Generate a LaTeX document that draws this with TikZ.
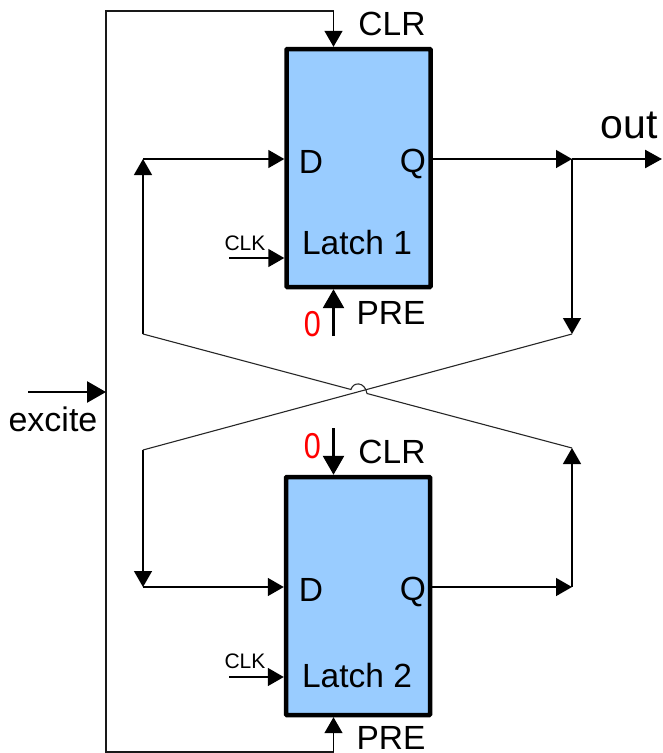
\documentclass[tikz,border=0pt]{standalone}
\usepackage{fontspec}
\setmainfont{Liberation Sans}
\usetikzlibrary{arrows.meta}
\definecolor{latchfill}{HTML}{99CCFF}
\tikzset{
  x=1pt,y=-1pt,
  latch/.style={draw=black,fill=latchfill,line width=4.5pt,minimum width=144pt,minimum height=238pt,inner sep=0pt,outer sep=2.2pt,rounded corners=0.8pt},
  wire/.style={line width=1.4pt,black!90},
  pin/.style={line width=1.4pt,black,-{Triangle[length=16pt,width=18pt]}},
  boldpin/.style={line width=2.6pt,black,-{Triangle[length=19pt,width=21pt]}},
  lab/.style={font=\fontsize{33.5}{34}\selectfont,inner sep=0pt,text=black},
  small/.style={font=\fontsize{21}{21}\selectfont,inner sep=0pt,text=black},
  zero/.style={font=\fontsize{36}{36}\selectfont,inner sep=0pt,text=red},
}
\begin{document}
\begin{tikzpicture}
\useasboundingbox (0,0) rectangle (662,753);
\node[latch] (L1) at (358.5,168) {};
\node[latch] (L2) at (358,596) {};
% labels
\node[lab] (clr1) at (392,24) {CLR};
\node[lab] (pre1) at (391,313) {PRE};
\node[lab] (clr2) at (392,452) {CLR};
\node[lab] (pre2) at (391,738) {PRE};
\node[lab] (d1) at (311,162) {D};
\node[lab] (q1) at (413,164) {Q};
\node[lab] (d2) at (311,590) {D};
\node[lab] (q2) at (413,592) {Q};
\node[lab] (t1) at (357,243) {Latch 1};
\node[lab] (t2) at (357,676) {Latch 2};
\node[small] (ck1) at (245,243.5) {CLK};
\node[small] (ck2) at (245,661.5) {CLK};
\node[zero] (z1) at (312.5,324) {\scalebox{0.85}[1]{0}};
\node[zero] (z2) at (312.5,446) {\scalebox{0.85}[1]{0}};
\node[lab,font=\fontsize{34}{34}\selectfont] (exc) at (53,419) {excite};
\node[lab,font=\fontsize{41}{41}\selectfont] (out) at (629,125) {out};
% junction points
\coordinate (tl) at (106,11);
\coordinate (bl) at (106,752);
\coordinate (tc) at (333.5,11);
\coordinate (bc) at (333.5,752);
\coordinate (ex0) at (28,392);
\coordinate (ex1) at (106,392);
\coordinate (p1) at (333.5,336);
\coordinate (c2) at (333.5,428);
\coordinate (ck1s) at (229,258);
\coordinate (ck2s) at (229,677);
\coordinate (d1n) at (143,159);
\coordinate (q1n) at (572,159);
\coordinate (d2n) at (143,587);
\coordinate (q2n) at (572,587);
\coordinate (xtl) at (143,334);
\coordinate (xtr) at (572,334);
\coordinate (xbl) at (143,450);
\coordinate (xbr) at (572,448);
\coordinate (j1) at (351,389.5);
\coordinate (j2) at (367,393.5);
\coordinate (outend) at (662,159);
% excite bus
\draw[wire] (bc) -- (bl) -- (tl) -- (tc);
\draw[pin] (tc) -- (tc |- L1.north);
\draw[pin] (bc) -- (bc |- L2.south);
\draw[boldpin] (ex0) -- (ex1);
% constant inputs
\draw[boldpin] (p1) -- (p1 |- L1.south);
\draw[boldpin] (c2) -- (c2 |- L2.north);
% clocks
\draw[pin] (ck1s) -- (ck1s -| L1.west);
\draw[pin] (ck2s) -- (ck2s -| L2.west);
% latch 1 data
\draw[pin] (xtl) -- (d1n);
\draw[pin] (d1n) -- (d1n -| L1.west);
\draw[pin] (q1n -| L1.east) -- (q1n);
\draw[boldpin,-{Triangle[length=17pt,width=18pt]}] (q1n) -- (outend);
\draw[pin] (q1n) -- (xtr);
% latch 2 data
\draw[pin] (xbl) -- (d2n);
\draw[pin] (d2n) -- (d2n -| L2.west);
\draw[pin] (q2n -| L2.east) -- (q2n);
\draw[pin] (q2n) -- (xbr);
% crossover
\draw[line width=1.1pt,black!85] (xbl) -- (xtr);
\draw[line width=1.1pt,black!85] (xtl) -- (j1) .. controls (353,381.5) and (365,381.5) .. (j2) -- (xbr);
\end{tikzpicture}
\end{document}
